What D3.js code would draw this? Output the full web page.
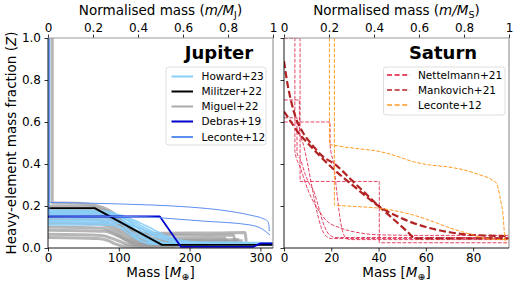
<!DOCTYPE html>
<html><head><meta charset="utf-8">
<script src="https://cdn.jsdelivr.net/npm/d3@7"></script>
<style>body{margin:0;background:#fff} svg{display:block;font-family:"DejaVu Sans",sans-serif}</style>
</head><body><svg id="c" width="518" height="288"></svg>
<script>
// ---------- data ----------
const jupMass = 317.83, satMass = 95.16;
const yTicks = [0, 0.2, 0.4, 0.6, 0.8, 1.0];
const normTicks = [0, 0.2, 0.4, 0.6, 0.8, 1];
const jupTicks = [0, 100, 200, 300];
const satTicks = [0, 20, 40, 60, 80];

const jupLegend = ["Howard+23", "Militzer+22", "Miguel+22", "Debras+19", "Leconte+12"];
const satLegend = ["Nettelmann+21", "Mankovich+21", "Leconte+12"];

// Jupiter models: [mass (M_earth), Z]
const howard = [
  [[0.8,1],[0.8,0.18],[70,0.178],[90,0.17],[105,0.14],[120,0.09],[135,0.05],[150,0.03],[165,0.02],[317.8,0.017]],
  [[0,0.17],[80,0.168],[100,0.155],[115,0.125],[130,0.085],[145,0.05],[160,0.03],[180,0.02],[317.8,0.018]],
  [[0,0.16],[85,0.158],[105,0.145],[125,0.11],[145,0.07],[165,0.04],[185,0.027],[317.8,0.022]],
  [[0,0.15],[90,0.148],[115,0.135],[135,0.1],[155,0.065],[175,0.04],[200,0.022],[317.8,0.02]],
  [[0.4,1],[0.4,0.14],[90,0.138],[110,0.12],[125,0.085],[140,0.05],[160,0.025],[180,0.016],[317.8,0.015]],
  [[0,0.13],[95,0.128],[120,0.11],[140,0.075],[160,0.045],[185,0.025],[317.8,0.02]],
  [[0,0.12],[100,0.118],[125,0.1],[150,0.07],[175,0.04],[205,0.022],[317.8,0.02]],
  [[0,0.125],[80,0.122],[100,0.1],[115,0.065],[130,0.035],[150,0.018],[317.8,0.015]],
  [[0,0.165],[95,0.16],[120,0.135],[145,0.095],[165,0.06],[190,0.035],[215,0.028],[317.8,0.025]],
  [[0,0.11],[90,0.108],[110,0.09],[125,0.06],[140,0.035],[160,0.02],[317.8,0.018]],
  [[0,0.175],[60,0.172],[85,0.16],[100,0.13],[112,0.09],[125,0.05],[140,0.025],[317.8,0.02]]
];
const militzer = [[0,0.19],[66,0.19],[161,0.015],[317.8,0.015]];
const miguel = [
  [[6,1],[6,0.215],[40,0.213],[70,0.2],[95,0.16],[110,0.11],[125,0.078],[150,0.07],[200,0.071],[240,0.072],[278,0.074],[280,0.03]],
  [[0,0.2],[50,0.198],[80,0.18],[100,0.14],[115,0.1],[130,0.07],[160,0.062],[220,0.06],[262,0.062],[264,0.03]],
  [[0,0.185],[60,0.18],[90,0.15],[110,0.1],[125,0.062],[150,0.048],[200,0.045],[250,0.048],[252,0.025]],
  [[0,0.17],[60,0.168],[95,0.13],[115,0.08],[130,0.045],[160,0.036],[230,0.037],[270,0.04]],
  [[0,0.155],[70,0.15],[95,0.12],[110,0.08],[125,0.045],[150,0.03],[240,0.032],[275,0.035]],
  [[0,0.14],[70,0.135],[95,0.1],[110,0.065],[125,0.035],[150,0.025],[255,0.028]],
  [[0,0.12],[70,0.115],[95,0.085],[110,0.05],[125,0.028],[150,0.02],[245,0.022]],
  [[0,0.1],[75,0.095],[95,0.07],[110,0.04],[125,0.02],[150,0.015],[230,0.016]],
  [[0,0.085],[80,0.08],[100,0.055],[115,0.03],[130,0.015],[160,0.012],[220,0.012]],
  [[0,0.065],[75,0.06],[95,0.04],[110,0.02],[130,0.01],[200,0.01]],
  [[0,0.05],[70,0.045],[85,0.035],[95,0.02],[105,0.01],[130,0.008],[180,0.008]]
];
const debras = [[0,0.15],[158,0.15],[188,0.005],[290,0.005],[300,0.022],[317.8,0.022]];
const leconteJ = [
  [[2.5,1.0],[2.5,0.217],[40,0.215],[100,0.21],[144,0.205],[200,0.195],[250,0.178],[285,0.157],[305,0.138],[310,0.128],[312,0.11],[312.6,0.08]],
  [[1.5,1.0],[1.5,0.152],[80,0.151],[140,0.148],[165,0.142],[220,0.128],[285,0.11],[300,0.095],[313.6,0.062]]
];

// Saturn models
const nettelmann = [
  [[0,1],[4.6,1],[4.6,0.46],[7,0.38],[10,0.28],[14,0.19],[18,0.13],[24,0.095],[32,0.072],[40,0.063],[60,0.06],[95.2,0.06]],
  [[0,1],[6.8,1],[6.8,0.317],[40.3,0.317],[40.3,0.025],[95.2,0.025]],
  [[0,0.705],[6.5,0.705],[6.5,0.55],[8,0.5],[10,0.4],[12,0.28],[14,0.17],[16,0.09],[18,0.055],[20,0.045],[95.2,0.045]],
  [[0,0.6],[19.5,0.6],[19.5,0.49],[21,0.4],[22.5,0.25],[24,0.12],[26,0.05],[28,0.04],[95.2,0.04]],
  [[0,0.62],[5.5,0.62],[5.5,0.45],[7,0.42],[9,0.35],[11,0.3],[12.4,0.276],[14.5,0.2],[16.6,0.118],[19.5,0.06],[22,0.05],[95.2,0.05]]
];
const mankovich = [
  [[0,0.89],[1.5,0.78],[3,0.7],[5,0.62],[8,0.55],[12,0.49],[16,0.44],[22,0.395],[28,0.33],[34,0.265],[40,0.2],[46,0.14],[52,0.08],[55.5,0.046],[95.2,0.046]],
  [[0,0.65],[3,0.6],[6,0.55],[10,0.5],[15,0.44],[22,0.365],[30,0.29],[40,0.2],[50,0.14],[60,0.1],[70,0.075],[80,0.062],[95.2,0.057]]
];
const leconteS = [
  [[19.2,1],[19.2,0.495],[22.3,0.487],[30,0.475],[40.6,0.459],[47,0.44],[54.7,0.411],[62,0.395],[68.8,0.387],[76,0.372],[82.9,0.348],[88,0.325],[89.9,0.308],[91.3,0.244],[92.7,0.149],[93.4,0.046],[93.8,0.02]],
  [[21.3,1],[21.3,0.205],[30,0.198],[40.6,0.189],[48,0.175],[54.7,0.157],[62,0.13],[68.8,0.101],[75,0.078],[80,0.062],[84.3,0.046],[88,0.042],[95.2,0.04]]
];

// ---------- drawing ----------
const svg = d3.select("#c");
const Y0 = 38, Y1 = 248;
const y = d3.scaleLinear().domain([0, 1]).range([Y1, Y0]);

function panel(id, x0, x1, mMax, ticks, sub, showYLabels) {
  const x = d3.scaleLinear().domain([0, mMax]).range([x0, x1]);
  const xn = d3.scaleLinear().domain([0, 1]).range([x0, x1]);
  const g = svg.append("g");
  svg.append("clipPath").attr("id", "clip" + id).append("rect")
    .attr("x", x0).attr("y", Y0).attr("width", x1 - x0).attr("height", Y1 - Y0);
  const plot = g.append("g").attr("clip-path", `url(#clip${id})`);

  const bx = g.append("g").attr("transform", `translate(0,${Y1})`)
    .call(d3.axisBottom(x).tickValues(ticks).tickSize(3.5).tickPadding(2).tickFormat(d3.format("d")));
  const tx = g.append("g").attr("transform", `translate(0,${Y0})`)
    .call(d3.axisTop(xn).tickValues(normTicks).tickSize(3.5).tickPadding(2.5)
      .tickFormat(d => (d === 0 || d === 1) ? String(d) : d.toFixed(1)));
  const ly = g.append("g").attr("transform", `translate(${x0},0)`)
    .call(d3.axisLeft(y).tickValues(yTicks).tickSize(3.5).tickPadding(3.5)
      .tickFormat(showYLabels ? d3.format(".1f") : () => ""));
  [bx, tx, ly].forEach(a => {
    a.select(".domain").remove();
    a.selectAll("text").attr("font-size", 12).attr("fill", "#000").attr("font-family", "DejaVu Sans");
    a.selectAll("line").attr("stroke", "#000").attr("stroke-width", 0.8);
  });

  const t = g.append("text").attr("x", (x0 + x1) / 2).attr("y", 15).attr("text-anchor", "middle").attr("font-size", 13.5);
  t.append("tspan").text("Normalised mass (");
  t.append("tspan").attr("font-style", "italic").text("m/M");
  t.append("tspan").attr("font-size", 9.5).attr("dy", 3).text(sub);
  t.append("tspan").attr("dy", -3).text(")");
  const b = g.append("text").attr("x", (x0 + x1) / 2).attr("y", 277).attr("text-anchor", "middle").attr("font-size", 13.5);
  b.append("tspan").text("Mass [");
  b.append("tspan").attr("font-style", "italic").text("M");
  b.append("tspan").attr("font-size", 9.5).attr("dy", 2.5).text("⊕");
  b.append("tspan").attr("dy", -2.5).text("]");

  return { x, g, plot, x0, x1 };
}

function lines(p, curves, opt) {
  const gen = d3.line().x(d => p.x(d[0])).y(d => y(d[1]))
    .curve(opt.linear ? d3.curveLinear : d3.curveMonotoneX);
  p.plot.selectAll(null).data(curves).enter().append("path")
    .attr("d", gen).attr("fill", "none").attr("stroke", opt.color)
    .attr("stroke-width", opt.w).attr("stroke-opacity", opt.op || 1)
    .attr("stroke-dasharray", opt.dash || null)
    .attr("stroke-linejoin", "round");
}

function spines(p) {
  p.g.append("line").attr("x1", p.x0).attr("x2", p.x1).attr("y1", Y0).attr("y2", Y0).attr("stroke", "#9a9a9a").attr("stroke-width", 1.2);
  p.g.append("line").attr("x1", p.x1).attr("x2", p.x1).attr("y1", Y0).attr("y2", Y1).attr("stroke", "#9a9a9a").attr("stroke-width", 1.2);
  p.g.append("line").attr("x1", p.x0).attr("x2", p.x0).attr("y1", Y0).attr("y2", Y1).attr("stroke", "#000").attr("stroke-width", 0.9);
  p.g.append("line").attr("x1", p.x0).attr("x2", p.x1).attr("y1", Y1).attr("y2", Y1).attr("stroke", "#000").attr("stroke-width", 0.9);
}

function legend(p, names, styles, bx, by, bw, bh, lx0, lx1, tx, rows) {
  p.g.append("rect").attr("x", bx).attr("y", by).attr("width", bw).attr("height", bh)
    .attr("rx", 2.5).attr("fill", "#fff").attr("fill-opacity", 0.85).attr("stroke", "#d6d6d6").attr("stroke-width", 0.8);
  names.forEach((n, i) => {
    const s = styles[i];
    p.g.append("line").attr("x1", lx0).attr("x2", lx1).attr("y1", rows[i]).attr("y2", rows[i])
      .attr("stroke", s.color).attr("stroke-width", s.w).attr("stroke-opacity", s.op || 1)
      .attr("stroke-dasharray", s.dash || null);
    p.g.append("text").attr("x", tx).attr("y", rows[i] + 3.8).attr("font-size", 10.5).text(n);
  });
}

// Jupiter
const J = panel("j", 48, 273, jupMass, jupTicks, "J", true);
lines(J, miguel, { color: "#9e9e9e", w: 3, op: 0.75 });
lines(J, howard, { color: "#87CEFA", w: 1.6, op: 0.9 });
lines(J, [militzer], { color: "#000", w: 1.8, linear: true });
lines(J, [debras], { color: "#0000CD", w: 1.8, linear: true });
lines(J, leconteJ, { color: "#5B8FF0", w: 1.0 });
spines(J);
J.g.append("text").attr("x", 219).attr("y", 59).attr("text-anchor", "middle")
  .attr("font-size", 18).attr("font-weight", "bold").text("Jupiter");
legend(J, jupLegend, [
  { color: "#87CEFA", w: 2 }, { color: "#000", w: 2 }, { color: "#aaaaaa", w: 2 },
  { color: "#0000CD", w: 2 }, { color: "#5B8FF0", w: 2 }
], 166, 67, 100, 78, 171.5, 193, 201.5, [76.5, 91.5, 106.5, 121.5, 137]);

const yl = svg.append("text").attr("transform", "translate(16,143) rotate(-90)")
  .attr("text-anchor", "middle").attr("font-size", 13.5);
yl.append("tspan").text("Heavy-element mass fraction (");
yl.append("tspan").attr("font-style", "italic").text("Z");
yl.append("tspan").text(")");

// Saturn
const S = panel("s", 284, 509, satMass, satTicks, "S", false);
lines(S, nettelmann, { color: "#DC143C", w: 1.0, op: 0.8, dash: "3.7,1.6" });
lines(S, mankovich, { color: "#B22222", w: 2.2, dash: "7,3" });
lines(S, leconteS, { color: "#FF9A1F", w: 1.0, dash: "3.7,1.6" });
spines(S);
S.g.append("text").attr("x", 443).attr("y", 58.5).attr("text-anchor", "middle")
  .attr("font-size", 18).attr("font-weight", "bold").text("Saturn");
legend(S, satLegend, [
  { color: "#DC143C", w: 1.6, dash: "5,2.6" }, { color: "#B22222", w: 1.6, dash: "5,2.6" },
  { color: "#FF9A1F", w: 1.6, dash: "5,2.6" }
], 383.5, 67, 121.5, 48, 387, 410, 418, [75, 90, 105]);
</script></body></html>
